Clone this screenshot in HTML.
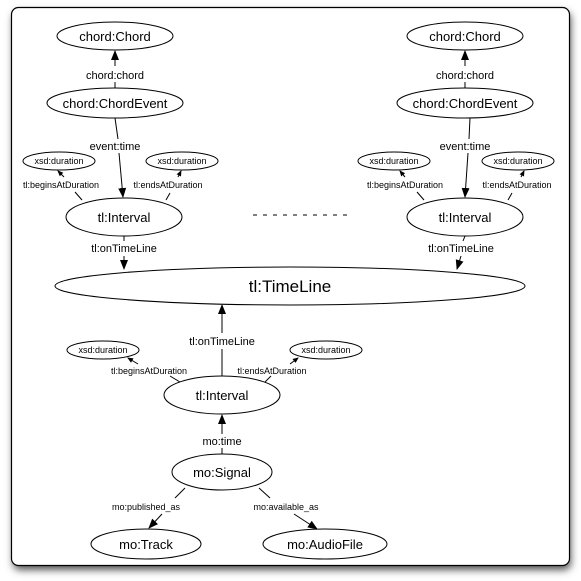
<!DOCTYPE html>
<html><head><meta charset="utf-8"><style>
html,body{margin:0;padding:0;background:#fff;width:581px;height:581px;overflow:hidden}
svg{display:block}
text{font-family:"Liberation Sans",sans-serif;fill:#000}
</style></head><body>
<svg width="581" height="581" viewBox="0 0 581 581" xmlns="http://www.w3.org/2000/svg">
<defs>
<filter id="sh" x="-10%" y="-10%" width="120%" height="120%"><feGaussianBlur stdDeviation="4"/></filter>
<marker id="a" markerWidth="10" markerHeight="10" refX="9" refY="5" orient="auto" markerUnits="userSpaceOnUse"><path d="M0,1 L10,5 L0,9 z" fill="#000"/></marker>
<marker id="s" markerWidth="6" markerHeight="6" refX="5" refY="3" orient="auto" markerUnits="userSpaceOnUse"><path d="M0,0.5 L6,3 L0,5.5 z" fill="#000"/></marker>
</defs>
<rect x="13" y="12" width="558" height="558" rx="7" fill="#555" filter="url(#sh)"/>
<rect x="11.5" y="7.5" width="558" height="558" rx="7" fill="#fff" stroke="#000" stroke-width="1.2"/>
<g fill="#fff" stroke="#000" stroke-width="1">
<ellipse cx="115" cy="36" rx="58" ry="14"/>
<ellipse cx="115" cy="103" rx="68" ry="15"/>
<ellipse cx="59" cy="161" rx="36" ry="9"/>
<ellipse cx="182" cy="161" rx="36" ry="9"/>
<ellipse cx="124" cy="217" rx="58" ry="19"/>
<ellipse cx="465" cy="36" rx="58" ry="14"/>
<ellipse cx="465" cy="103" rx="68" ry="15"/>
<ellipse cx="394" cy="161" rx="36" ry="9"/>
<ellipse cx="518" cy="161" rx="36" ry="9"/>
<ellipse cx="465" cy="217" rx="58" ry="19"/>
<ellipse cx="290" cy="286" rx="235" ry="19"/>
<ellipse cx="103" cy="350" rx="36" ry="9"/>
<ellipse cx="326" cy="350" rx="36" ry="9"/>
<ellipse cx="222" cy="395" rx="58" ry="19"/>
<ellipse cx="222" cy="472" rx="50" ry="18"/>
<ellipse cx="146" cy="544" rx="55" ry="15"/>
<ellipse cx="325" cy="544" rx="62" ry="15"/>
</g>
<g stroke="#000" stroke-width="1" fill="none">
<line x1="115" y1="88" x2="115" y2="82"/><line x1="115" y1="66" x2="115" y2="51" marker-end="url(#a)"/>
<line x1="115" y1="118" x2="118" y2="139"/><line x1="119" y1="153" x2="123" y2="197" marker-end="url(#a)"/>
<line x1="82" y1="200" x2="75" y2="192"/><line x1="64" y1="177" x2="58" y2="171" marker-end="url(#s)"/>
<line x1="166" y1="200" x2="170" y2="193"/><line x1="178" y1="177" x2="181" y2="171" marker-end="url(#s)"/>
<line x1="124" y1="236" x2="124" y2="241"/><line x1="124" y1="256" x2="124" y2="269" marker-end="url(#a)"/>
<line x1="465" y1="88" x2="465" y2="82"/><line x1="465" y1="66" x2="465" y2="51" marker-end="url(#a)"/>
<line x1="470" y1="118" x2="469" y2="139"/><line x1="468" y1="153" x2="465" y2="197" marker-end="url(#a)"/>
<line x1="424" y1="200" x2="417" y2="192"/><line x1="405" y1="177" x2="400" y2="171" marker-end="url(#s)"/>
<line x1="508" y1="200" x2="512" y2="193"/><line x1="521" y1="177" x2="524" y2="171" marker-end="url(#s)"/>
<line x1="465" y1="236" x2="463" y2="241"/><line x1="461" y1="256" x2="457" y2="269" marker-end="url(#a)"/>
<line x1="253" y1="215" x2="350" y2="215" stroke-dasharray="4,6"/>
<line x1="222" y1="376" x2="222" y2="349"/><line x1="222" y1="333" x2="222" y2="305" marker-end="url(#a)"/>
<line x1="180" y1="382" x2="170" y2="376"/><line x1="138" y1="364" x2="128" y2="358" marker-end="url(#s)"/>
<line x1="265" y1="382" x2="271" y2="376"/><line x1="290" y1="364" x2="298" y2="358" marker-end="url(#s)"/>
<line x1="222" y1="454" x2="222" y2="448"/><line x1="222" y1="434" x2="222" y2="415" marker-end="url(#a)"/>
<line x1="185" y1="488" x2="175" y2="498"/><line x1="162" y1="514" x2="149" y2="528" marker-end="url(#a)"/>
<line x1="259" y1="488" x2="270" y2="498"/><line x1="294" y1="514" x2="317" y2="529" marker-end="url(#a)"/>
</g>
<g text-anchor="middle" font-size="13">
<text x="115" y="41">chord:Chord</text>
<text x="115" y="108">chord:ChordEvent</text>
<text x="124" y="222">tl:Interval</text>
<text x="465" y="41">chord:Chord</text>
<text x="465" y="108">chord:ChordEvent</text>
<text x="465" y="222">tl:Interval</text>
<text x="222" y="400">tl:Interval</text>
<text x="222" y="477">mo:Signal</text>
<text x="146" y="549">mo:Track</text>
<text x="325" y="549">mo:AudioFile</text>
<text x="290" y="292" font-size="17">tl:TimeLine</text>
</g>
<g text-anchor="middle" font-size="11">
<text x="115" y="79">chord:chord</text>
<text x="115" y="150">event:time</text>
<text x="124" y="252">tl:onTimeLine</text>
<text x="465" y="79">chord:chord</text>
<text x="465" y="150">event:time</text>
<text x="461" y="252">tl:onTimeLine</text>
<text x="222" y="345">tl:onTimeLine</text>
<text x="222" y="445">mo:time</text>
</g>
<g text-anchor="middle" font-size="9">
<text x="59" y="164">xsd:duration</text>
<text x="182" y="164">xsd:duration</text>
<text x="394" y="164">xsd:duration</text>
<text x="518" y="164">xsd:duration</text>
<text x="103" y="353">xsd:duration</text>
<text x="326" y="353">xsd:duration</text>
<text x="61" y="188">tl:beginsAtDuration</text>
<text x="168" y="188">tl:endsAtDuration</text>
<text x="405" y="188">tl:beginsAtDuration</text>
<text x="517" y="188">tl:endsAtDuration</text>
<text x="149" y="374">tl:beginsAtDuration</text>
<text x="272" y="374">tl:endsAtDuration</text>
<text x="146" y="510">mo:published_as</text>
<text x="286" y="510">mo:available_as</text>
</g>
</svg>
</body></html>
